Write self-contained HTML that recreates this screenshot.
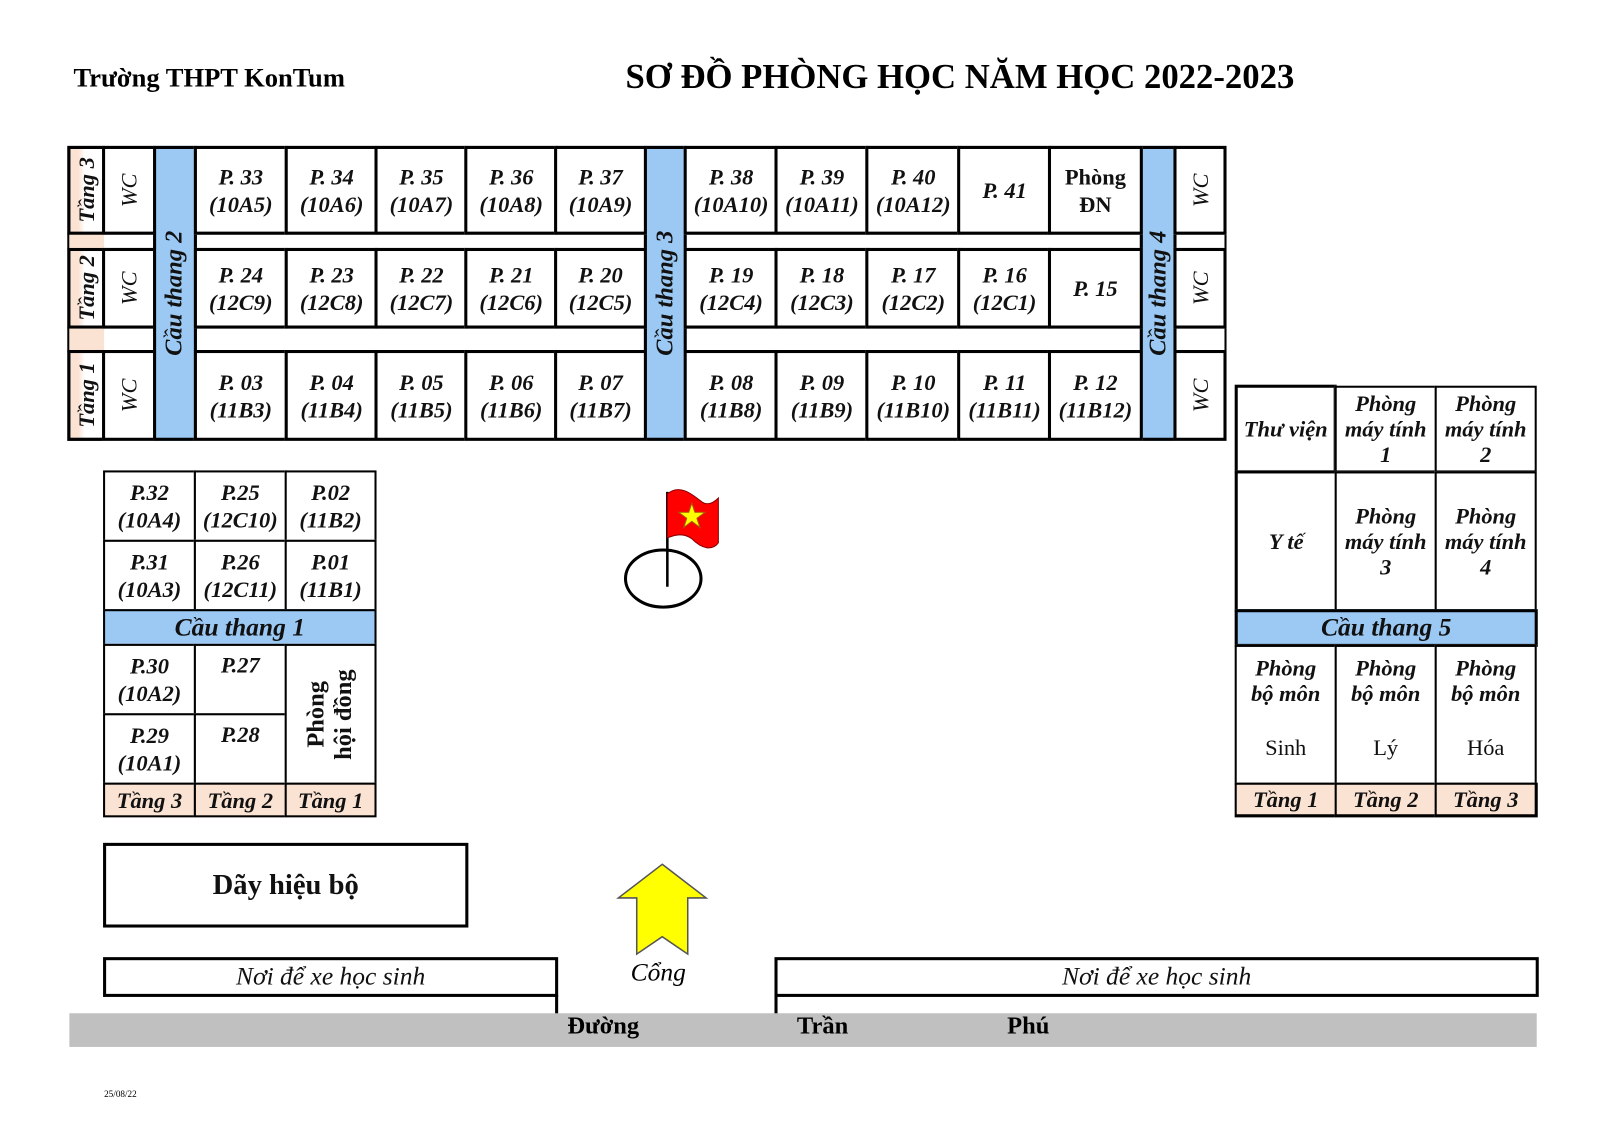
<!DOCTYPE html>
<html><head><meta charset="utf-8">
<style>
html,body{margin:0;padding:0;background:#fff;}
body{width:1600px;height:1131px;position:relative;overflow:hidden;font-family:"Liberation Serif",serif;}
#w{position:absolute;left:0;top:0;width:1568px;height:1108px;transform:scale(1.0204);transform-origin:0 0;}
.c{position:absolute;box-sizing:border-box;border:3px solid #000;display:flex;align-items:center;justify-content:center;text-align:center;font-style:italic;font-weight:bold;font-size:22px;line-height:27px;color:#111;background:#fff;}
.t{border-width:2px;}
.b{background:#9cc9f4;}
.p{background:#fbe3d3;}
.v{writing-mode:vertical-rl;transform:rotate(180deg);}
.tg{background:linear-gradient(to right,#fbe3d3 0,#fbe3d3 8px,#fff 14px);}
.a{position:absolute;white-space:nowrap;}
</style></head><body><div id="w">

<div class="a" style="left:72px;top:62px;font-weight:bold;font-size:26px;">Trường THPT KonTum</div>
<div class="a" style="left:613px;top:57px;font-weight:bold;font-size:34px;">SƠ ĐỒ PHÒNG HỌC NĂM HỌC 2022-2023</div>

<div class="c" style="left:66px;top:143px;width:1136px;height:289px;"></div>
<div class="c t" style="left:66px;top:228px;width:1136px;height:17px;"></div>
<div class="c t" style="left:66px;top:320px;width:1136px;height:25px;"></div>
<div class="c t p" style="left:68px;top:230px;width:34px;height:13px;border:none;"></div>
<div class="c t p" style="left:68px;top:322px;width:34px;height:21px;border:none;"></div>

<div class="c tg" style="left:66px;top:143px;width:37px;height:87px;"><span class="v">Tầng 3</span></div>
<div class="c tg" style="left:66px;top:243px;width:37px;height:79px;"><span class="v">Tầng 2</span></div>
<div class="c tg" style="left:66px;top:343px;width:37px;height:89px;"><span class="v">Tầng 1</span></div>
<div class="c" style="left:100px;top:143px;width:53px;height:87px;"><span class="v" style="font-weight:normal">WC</span></div>
<div class="c" style="left:100px;top:243px;width:53px;height:79px;"><span class="v" style="font-weight:normal">WC</span></div>
<div class="c" style="left:100px;top:343px;width:53px;height:89px;"><span class="v" style="font-weight:normal">WC</span></div>
<div class="c b" style="left:150px;top:143px;width:43px;height:289px;font-size:24px;"><span class="v">Cầu thang 2</span></div>
<div class="c b" style="left:631px;top:143px;width:42px;height:289px;font-size:24px;"><span class="v">Cầu thang 3</span></div>
<div class="c b" style="left:1117px;top:143px;width:36px;height:289px;font-size:24px;"><span class="v">Cầu thang 4</span></div>
<div class="c" style="left:1150px;top:143px;width:52px;height:87px;"><span class="v" style="font-weight:normal">WC</span></div>
<div class="c" style="left:1150px;top:243px;width:52px;height:79px;"><span class="v" style="font-weight:normal">WC</span></div>
<div class="c" style="left:1150px;top:343px;width:52px;height:89px;"><span class="v" style="font-weight:normal">WC</span></div>

<div class="c" style="left:190px;top:143px;width:92px;height:87px;">P. 33<br>(10A5)</div>
<div class="c" style="left:279px;top:143px;width:92px;height:87px;">P. 34<br>(10A6)</div>
<div class="c" style="left:367px;top:143px;width:92px;height:87px;">P. 35<br>(10A7)</div>
<div class="c" style="left:455px;top:143px;width:92px;height:87px;">P. 36<br>(10A8)</div>
<div class="c" style="left:543px;top:143px;width:91px;height:87px;">P. 37<br>(10A9)</div>
<div class="c" style="left:670px;top:143px;width:93px;height:87px;">P. 38<br>(10A10)</div>
<div class="c" style="left:759px;top:143px;width:93px;height:87px;">P. 39<br>(10A11)</div>
<div class="c" style="left:848px;top:143px;width:94px;height:87px;">P. 40<br>(10A12)</div>
<div class="c" style="left:938px;top:143px;width:93px;height:87px;">P. 41</div>
<div class="c" style="left:1027px;top:143px;width:93px;height:87px;font-style:normal;">Phòng<br>ĐN</div>
<div class="c" style="left:190px;top:243px;width:92px;height:79px;">P. 24<br>(12C9)</div>
<div class="c" style="left:279px;top:243px;width:92px;height:79px;">P. 23<br>(12C8)</div>
<div class="c" style="left:367px;top:243px;width:92px;height:79px;">P. 22<br>(12C7)</div>
<div class="c" style="left:455px;top:243px;width:92px;height:79px;">P. 21<br>(12C6)</div>
<div class="c" style="left:543px;top:243px;width:91px;height:79px;">P. 20<br>(12C5)</div>
<div class="c" style="left:670px;top:243px;width:93px;height:79px;">P. 19<br>(12C4)</div>
<div class="c" style="left:759px;top:243px;width:93px;height:79px;">P. 18<br>(12C3)</div>
<div class="c" style="left:848px;top:243px;width:94px;height:79px;">P. 17<br>(12C2)</div>
<div class="c" style="left:938px;top:243px;width:93px;height:79px;">P. 16<br>(12C1)</div>
<div class="c" style="left:1027px;top:243px;width:93px;height:79px;">P. 15</div>
<div class="c" style="left:190px;top:343px;width:92px;height:89px;">P. 03<br>(11B3)</div>
<div class="c" style="left:279px;top:343px;width:92px;height:89px;">P. 04<br>(11B4)</div>
<div class="c" style="left:367px;top:343px;width:92px;height:89px;">P. 05<br>(11B5)</div>
<div class="c" style="left:455px;top:343px;width:92px;height:89px;">P. 06<br>(11B6)</div>
<div class="c" style="left:543px;top:343px;width:91px;height:89px;">P. 07<br>(11B7)</div>
<div class="c" style="left:670px;top:343px;width:93px;height:89px;">P. 08<br>(11B8)</div>
<div class="c" style="left:759px;top:343px;width:93px;height:89px;">P. 09<br>(11B9)</div>
<div class="c" style="left:848px;top:343px;width:94px;height:89px;">P. 10<br>(11B10)</div>
<div class="c" style="left:938px;top:343px;width:93px;height:89px;">P. 11<br>(11B11)</div>
<div class="c" style="left:1027px;top:343px;width:93px;height:89px;">P. 12<br>(11B12)</div>

<div class="c t" style="left:101px;top:461px;width:91px;height:70px;">P.32<br>(10A4)</div>
<div class="c t" style="left:190px;top:461px;width:91px;height:70px;">P.25<br>(12C10)</div>
<div class="c t" style="left:279px;top:461px;width:90px;height:70px;">P.02<br>(11B2)</div>
<div class="c t" style="left:101px;top:529px;width:91px;height:70px;">P.31<br>(10A3)</div>
<div class="c t" style="left:190px;top:529px;width:91px;height:70px;">P.26<br>(12C11)</div>
<div class="c t" style="left:279px;top:529px;width:90px;height:70px;">P.01<br>(11B1)</div>
<div class="c t b" style="left:101px;top:597px;width:268px;height:36px;font-size:25px;">Cầu thang 1</div>
<div class="c t" style="left:101px;top:631px;width:91px;height:70px;">P.30<br>(10A2)</div>
<div class="c t" style="left:190px;top:631px;width:91px;height:70px;align-items:flex-start;padding-top:5px;">P.27</div>
<div class="c t" style="left:101px;top:699px;width:91px;height:70px;">P.29<br>(10A1)</div>
<div class="c t" style="left:190px;top:699px;width:91px;height:70px;align-items:flex-start;padding-top:5px;">P.28</div>
<div class="c t" style="left:279px;top:631px;width:90px;height:138px;font-style:normal;font-size:24px;"><span class="v">Phòng<br>hội đồng</span></div>
<div class="c t p" style="left:101px;top:767px;width:91px;height:34px;">Tầng 3</div>
<div class="c t p" style="left:190px;top:767px;width:91px;height:34px;">Tầng 2</div>
<div class="c t p" style="left:279px;top:767px;width:90px;height:34px;">Tầng 1</div>

<div class="c" style="left:1210px;top:377px;width:100px;height:87px;">Thư viện</div>
<div class="c t" style="left:1308px;top:378px;width:100px;height:85px;line-height:25px;">Phòng<br>máy tính<br>1</div>
<div class="c t" style="left:1406px;top:378px;width:100px;height:85px;line-height:25px;">Phòng<br>máy tính<br>2</div>
<div class="c" style="left:1210px;top:461px;width:101px;height:139px;">Y tế</div>
<div class="c t" style="left:1308px;top:462px;width:100px;height:137px;line-height:25px;">Phòng<br>máy tính<br>3</div>
<div class="c t" style="left:1406px;top:462px;width:100px;height:137px;line-height:25px;">Phòng<br>máy tính<br>4</div>
<div class="c b" style="left:1210px;top:597px;width:297px;height:37px;font-size:25px;">Cầu thang 5</div>
<div class="c t" style="left:1210px;top:632px;width:100px;height:137px;flex-direction:column;justify-content:flex-start;padding-top:8px;line-height:25px;">Phòng<br>bộ môn<span style="font-style:normal;font-weight:normal;margin-top:28px;">Sinh</span></div>
<div class="c t" style="left:1308px;top:632px;width:100px;height:137px;flex-direction:column;justify-content:flex-start;padding-top:8px;line-height:25px;">Phòng<br>bộ môn<span style="font-style:normal;font-weight:normal;margin-top:28px;">Lý</span></div>
<div class="c t" style="left:1406px;top:632px;width:100px;height:137px;flex-direction:column;justify-content:flex-start;padding-top:8px;line-height:25px;">Phòng<br>bộ môn<span style="font-style:normal;font-weight:normal;margin-top:28px;">Hóa</span></div>
<div class="c t p" style="left:1210px;top:767px;width:100px;height:34px;border-bottom-width:3px;">Tầng 1</div>
<div class="c t p" style="left:1308px;top:767px;width:100px;height:34px;border-bottom-width:3px;">Tầng 2</div>
<div class="c t p" style="left:1406px;top:767px;width:101px;height:34px;border-bottom-width:3px;border-right-width:3px;">Tầng 3</div>

<svg class="a" style="left:600px;top:470px;" width="120" height="135" viewBox="0 0 120 135">
  <ellipse cx="50" cy="97" rx="37" ry="28" fill="none" stroke="#000" stroke-width="3"/>
  <line x1="54" y1="12" x2="54" y2="105" stroke="#000" stroke-width="2.5"/>
  <path d="M54 14 C66 4 78 14 88 22 C94 26 100 22 104 18 L104 62 C98 70 88 68 78 58 C70 52 62 54 54 57 Z" fill="#f00" stroke="#800" stroke-width="1"/>
  <polygon points="78,23 81,32 91,32 83,38 86,47 78,41 70,47 73,38 65,32 75,32" fill="#ff0" stroke="#a50" stroke-width="1"/>
</svg>

<div class="c" style="left:101px;top:826px;width:358px;height:83px;font-style:normal;font-size:28px;">Dãy hiệu bộ</div>

<svg class="a" style="left:600px;top:840px;" width="100" height="100" viewBox="0 0 100 100">
  <polygon points="49,7 92,40 74,40 74,95 49,78 24,95 24,40 6,40" fill="#ffff00" stroke="#555" stroke-width="1.5"/>
</svg>

<div class="c" style="left:101px;top:938px;width:446px;height:39px;font-weight:normal;font-size:25px;">Nơi để xe học sinh</div>
<div class="a" style="left:544px;top:975px;width:3px;height:19px;background:#000;"></div>
<div class="c" style="left:759px;top:938px;width:749px;height:39px;font-weight:normal;font-size:25px;">Nơi để xe học sinh</div>
<div class="a" style="left:759px;top:975px;width:3px;height:19px;background:#000;"></div>
<div class="a" style="left:618px;top:940px;font-style:italic;font-size:25px;">Cổng</div>

<div class="a" style="left:68px;top:993px;width:1438px;height:33px;background:#c0c0c0;"></div>
<div class="a" style="left:556px;top:993px;font-weight:bold;font-size:24px;">Đường</div>
<div class="a" style="left:781px;top:993px;font-weight:bold;font-size:24px;">Trần</div>
<div class="a" style="left:987px;top:993px;font-weight:bold;font-size:24px;">Phú</div>

<div class="a" style="left:102px;top:1067px;font-size:9px;">25/08/22</div>
</div></body></html>
